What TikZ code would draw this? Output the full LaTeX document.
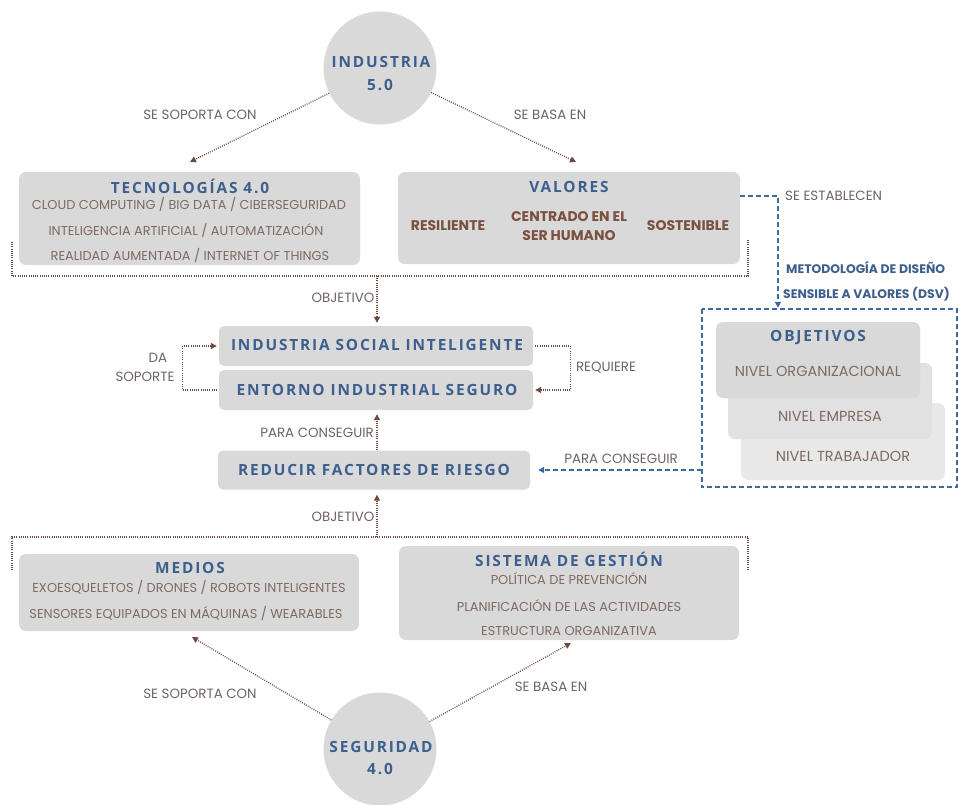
\documentclass[tikz,border=0pt]{standalone}
\usepackage{fontspec}
\setmainfont{Poppins}
\newfontfamily\ttlfont[LetterSpace=12]{Open Sans}
\usetikzlibrary{arrows.meta,calc}
\definecolor{boxgray}{HTML}{D9D9D9}
\definecolor{ttlblue}{HTML}{3D5F8E}
\definecolor{txtbrown}{HTML}{7E6A62}
\definecolor{lblgray}{HTML}{6F6463}
\definecolor{boldbrown}{HTML}{7A5040}
\definecolor{dotbrown}{HTML}{6E4B40}
\definecolor{dashblue}{HTML}{3D68A0}
\begin{document}
\begin{tikzpicture}[x=1pt,y=-1pt,
  gbox/.style={draw=none,fill=boxgray,rounded corners=7pt,inner sep=0pt},
  ttl/.style={font=\ttlfont\bfseries\fontsize{15.4}{17}\selectfont,text=ttlblue,inner sep=0pt},
  body/.style={font=\fontsize{12.9}{14}\selectfont,text=txtbrown,inner sep=0pt},
  bodyl/.style={font=\fontsize{14.5}{16}\selectfont,text=txtbrown,inner sep=0pt},
  lbl/.style={font=\fontsize{13.4}{15}\selectfont,text=lblgray,inner sep=0pt},
  bbold/.style={font=\bfseries\fontsize{14}{16}\selectfont,text=boldbrown,inner sep=0pt,align=center},
  bblue/.style={font=\bfseries\fontsize{12.4}{14}\selectfont,text=ttlblue,inner sep=0pt},
  dotl/.style={draw=dotbrown,line width=1.3pt,dash pattern=on 0.9pt off 1.3pt},
  dota/.style={dotl,-{Triangle[length=6pt,width=6pt]}},
  dashb/.style={draw=dashblue,line width=1.6pt,dash pattern=on 5pt off 3pt},
  dasha/.style={dashb,-{Triangle[length=6pt,width=6pt]}},
  circ/.style={circle,fill=boxgray,minimum size=113pt,inner sep=0pt}]
\clip (0,0) rectangle (958,804);
\fill[white] (0,0) rectangle (958,804);

% circles
\node[circ] (ind) at (380,68) {};
\node[ttl] (indt1) at (381,62) {INDUSTRIA};
\node[ttl] (indt2) at (380,85) {5.0};
\node[circ] (seg) at (380,749) {};
\node[ttl] (segt1) at (381,747) {SEGURIDAD};
\node[ttl] (segt2) at (380,769) {4.0};

% top boxes
\node[gbox,minimum width=341pt,minimum height=93pt] (tec) at (189.5,218.5) {};
\node[ttl] (tect) at (190,186) {TECNOLOGÍAS 4.0};
\node[body] (tec1) at (189,205) {CLOUD COMPUTING / BIG DATA / CIBERSEGURIDAD};
\node[body] (tec2) at (186,231) {INTELIGENCIA ARTIFICIAL / AUTOMATIZACIÓN};
\node[body] (tec3) at (190,256) {REALIDAD AUMENTADA / INTERNET OF THINGS};

\node[gbox,minimum width=342pt,minimum height=92pt] (val) at (569,218) {};
\node[ttl] (valt) at (569,187) {VALORES};
\node[bbold] (v1) at (448,226) {RESILIENTE};
\node[bbold,align=center] (v2) at (569,226) {CENTRADO EN EL\\[3pt]SER HUMANO};
\node[bbold] (v3) at (688,226) {SOSTENIBLE};

% middle boxes
\node[gbox,minimum width=314pt,minimum height=40pt,rounded corners=5pt] (isi) at (376,346) {};
\node[ttl] (isit) at (377,345) {INDUSTRIA SOCIAL INTELIGENTE};
\node[gbox,minimum width=314pt,minimum height=40pt,rounded corners=5pt] (eis) at (376,390) {};
\node[ttl] (eist) at (377,390) {ENTORNO INDUSTRIAL SEGURO};
\node[gbox,minimum width=312pt,minimum height=39pt,rounded corners=5pt] (red) at (374,470) {};
\node[ttl] (redt) at (374,470) {REDUCIR FACTORES DE RIESGO};

% bottom boxes
\node[gbox,minimum width=340pt,minimum height=77pt] (med) at (189,592.5) {};
\node[ttl] (medt) at (190,568) {MEDIOS};
\node[body] (med1) at (189,588) {EXOESQUELETOS / DRONES / ROBOTS INTELIGENTES};
\node[body] (med2) at (186,614) {SENSORES EQUIPADOS EN MÁQUINAS / WEARABLES};

\node[gbox,minimum width=340pt,minimum height=94pt] (sis) at (569,593) {};
\node[ttl] (sist) at (569,559) {SISTEMA DE GESTIÓN};
\node[body] (sis1) at (569,579) {POLÍTICA DE PREVENCIÓN};
\node[body] (sis2) at (569,606) {PLANIFICACIÓN DE LAS ACTIVIDADES};
\node[body] (sis3) at (569,631) {ESTRUCTURA ORGANIZATIVA};

% DSV box
\node[draw=none,minimum width=255pt,minimum height=178pt,inner sep=0pt] (dsv) at (829.5,398) {};
\draw[dashb] (dsv.north west) rectangle (dsv.south east);
\node[gbox,fill=boxgray!60,minimum width=204pt,minimum height=77pt] (trab) at (843,441.5) {};
\node[gbox,fill=boxgray!80,minimum width=204pt,minimum height=76pt] (emp) at (830,401) {};
\node[gbox,minimum width=204pt,minimum height=76pt] (obj) at (818,360) {};
\node[ttl] (objt) at (818,338) {OBJETIVOS};
\node[bodyl] (obj1) at (818,371) {NIVEL ORGANIZACIONAL};
\node[bodyl] (emp1) at (830,416) {NIVEL EMPRESA};
\node[bodyl] (trab1) at (843,456) {NIVEL TRABAJADOR};

% labels
\node[lbl] (l1) at (200,115) {SE SOPORTA CON};
\node[lbl] (l2) at (550,115) {SE BASA EN};
\node[lbl,anchor=west] (l3) at (785,196) {SE ESTABLECEN};
\node[bblue,anchor=west] (l4) at (786,267) {METODOLOGÍA DE DISEÑO};
\node[bblue,anchor=west] (l5) at (783,294) {SENSIBLE A VALORES (DSV)};
\node[lbl] (l6) at (343,298) {OBJETIVO};
\node[lbl] (l7) at (158,358) {DA};
\node[lbl] (l8) at (145,377) {SOPORTE};
\node[lbl] (l9) at (606,368) {REQUIERE};
\node[lbl] (l10) at (317,433) {PARA CONSEGUIR};
\node[lbl] (l11) at (621,459) {PARA CONSEGUIR};
\node[lbl] (l12) at (343,517) {OBJETIVO};
\node[lbl] (l13) at (200,694) {SE SOPORTA CON};
\node[lbl] (l14) at (551,687) {SE BASA EN};

% coordinates
\coordinate (a1) at (190,162);
\coordinate (a2) at (576,162);
\coordinate (b1) at (192,637);
\coordinate (b2) at (571,643);
\coordinate (tb1) at (12,242);
\coordinate (tb2) at (12,276);
\coordinate (tb3) at (748,276);
\coordinate (tb4) at (748,240);
\coordinate (tbm) at (377,276);
\coordinate (bb1) at (12,570);
\coordinate (bb2) at (12,537);
\coordinate (bb3) at (748,537);
\coordinate (bb4) at (748,570);
\coordinate (bbm) at (377,537);
\coordinate (dv1) at (778,196);

% connectors
\draw[dota] (ind) -- (a1);
\draw[dota] (ind) -- (a2);
\draw[dota] (seg) -- (b1);
\draw[dota] (seg) -- (b2);
\draw[dotl] (tb1) -- (tb2) -- (tb3) -- (tb4);
\draw[dota,shorten >=3pt] (tbm) -- (tbm |- isi.north);
\draw[dotl] (bb1) -- (bb2) -- (bb3) -- (bb4);
\draw[dota,shorten >=5pt] (bbm) -- (bbm |- red.south);
\draw[dota,shorten >=4pt] (red.north -| bbm) -- (bbm |- eis.south);
\draw[dota,shorten >=2pt] ([xshift=-2pt]eis.west) -- ++(-34,0) |- (isi.west);
\draw[dota,shorten >=2pt] ([xshift=2pt]isi.east) -- ++(35,0) |- (eis.east);
\draw[dasha,shorten >=1pt] (val.east |- dv1) -- (dv1) -- (dv1 |- dsv.north);
\draw[dasha,shorten >=8pt] (dsv.west |- red.east) -- (red.east);
\end{tikzpicture}
\end{document}
